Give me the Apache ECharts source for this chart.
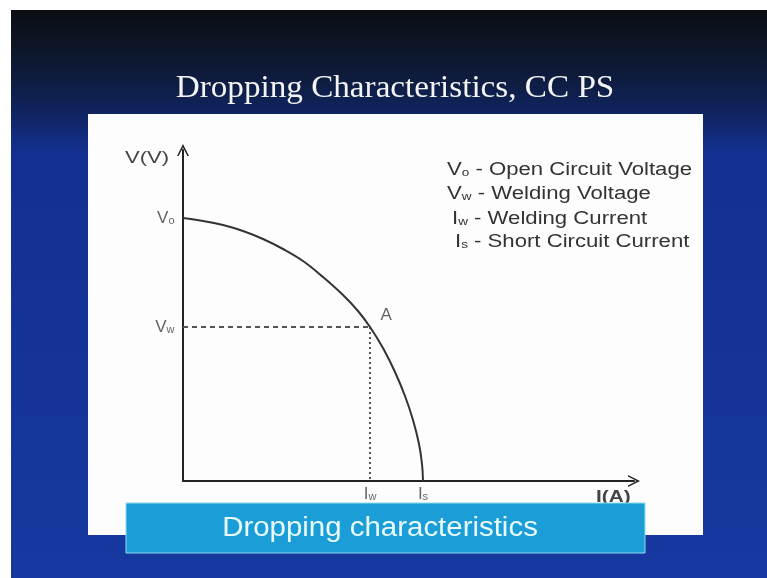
<!DOCTYPE html>
<html lang="en">
<head>
    <meta charset="UTF-8">
    <title>Dropping Characteristics, CC PS</title>
    <script src="https://cdn.jsdelivr.net/npm/echarts@6/dist/echarts.min.js"></script>
    <style>
        html, body { margin: 0; padding: 0; background: #fff; }
    </style>
</head>
<body>
<div id="main" style="width:767px;height:578px;"></div>
<script>
    // curve points (I, V) in arbitrary units
    var curveI = [0, 20, 40, 60, 80, 100, 120, 140, 160, 175, 187, 200, 212, 222, 230, 236, 239, 240];
    var curveV = [263, 260, 256, 250, 242, 232, 220, 204, 186, 170, 154, 133, 109, 85, 61, 37, 17, 0];
    var Vo = 263, Vw = 154, Iw = 187, Is = 240;
    var legendLines = [
        ['V', 'o', ' - Open Circuit Voltage'],
        ['V', 'w', ' - Welding Voltage'],
        ['I', 'w', ' - Welding Current'],
        ['I', 's', ' - Short Circuit Current']
    ];

    var curve = [];
    for (var i = 0; i < curveI.length; i++) {
        curve.push([curveI[i], curveV[i]]);
    }

    var sub = function (a, b) { return '{m|' + a + '}{s|' + b + '}'; };
    var labRich = {
        m: { fontFamily: 'Liberation Sans', fontSize: 17, color: '#3c3c3c' },
        s: { fontFamily: 'Liberation Sans', fontSize: 11, color: '#3c3c3c', padding: [6, 0, 0, 0] }
    };
    var chevron = 'path://M0,12 L6,0 L12,12 L10.4,12 L6,3.4 L1.6,12 Z';

    var legendX = [447, 447, 452, 455];
    var legendY = [170, 194, 219, 242];
    var legendEls = legendLines.map(function (l, k) {
        return {
            type: 'text', x: legendX[k], y: legendY[k], scaleX: 1.23, z: 10,
            style: {
                text: '{m|' + l[0] + '}{s|' + l[1] + '}{t|' + l[2] + '}',
                verticalAlign: 'middle',
                rich: {
                    m: { fontFamily: 'Liberation Sans', fontSize: 18, fill: '#333' },
                    s: { fontFamily: 'Liberation Sans', fontSize: 11, fill: '#333', padding: [6, 0, 0, 0] },
                    t: { fontFamily: 'Liberation Sans', fontSize: 18, fill: '#333' }
                }
            }
        };
    });

    var chart = echarts.init(document.getElementById('main'));
    chart.setOption({
        animation: false,
        graphic: [
            {
                type: 'rect', z: -10, shape: { x: 11, y: 10, width: 756, height: 568 },
                style: {
                    fill: new echarts.graphic.LinearGradient(0, 0, 0, 1, [
                        { offset: 0, color: '#0b0e13' },
                        { offset: 0.06, color: '#0d1526' },
                        { offset: 0.12, color: '#0e1c3e' },
                        { offset: 0.18, color: '#10245f' },
                        { offset: 0.25, color: '#133090' },
                        { offset: 1, color: '#1638a0' }
                    ])
                }
            },
            {
                type: 'rect', z: -9, shape: { x: 88, y: 114, width: 615, height: 421 },
                style: { fill: '#fdfdfd' }
            },
            {
                type: 'text', x: 395, y: 89, scaleX: 1.07, z: 10,
                style: {
                    text: 'Dropping Characteristics, CC PS', align: 'center', verticalAlign: 'middle',
                    fontFamily: 'Liberation Serif', fontSize: 31, fill: '#f4f4f4'
                }
            },
            {
                type: 'text', x: 125, y: 158, scaleX: 1.3, z: 10,
                style: { text: 'V(V)', verticalAlign: 'middle', fontFamily: 'Liberation Sans', fontSize: 17, fill: '#444' }
            },
            {
                type: 'text', x: 596, y: 498, scaleX: 1.3, z: 10,
                style: { text: 'I(A)', verticalAlign: 'middle', fontFamily: 'Liberation Sans', fontSize: 16, fontWeight: 'bold', fill: '#444' }
            },
            {
                type: 'rect', z: 20, shape: { x: 126, y: 503, width: 519, height: 50 },
                style: { fill: '#1b9dd8', stroke: '#8fdcf0', lineWidth: 1 }
            },
            {
                type: 'text', x: 380, y: 529, scaleX: 1.09, z: 21,
                style: {
                    text: 'Dropping characteristics', align: 'center', verticalAlign: 'middle',
                    fontFamily: 'Liberation Sans', fontSize: 27, fill: '#e8fbff'
                }
            }
        ].concat(legendEls),
        grid: { left: 183, top: 150, width: 451, height: 331 },
        xAxis: {
            type: 'value', min: 0, max: 451,
            axisLine: {
                show: true, symbol: ['none', chevron], symbolSize: [12, 13],
                lineStyle: { color: '#222', width: 2 }
            },
            axisTick: { show: false }, axisLabel: { show: false }, splitLine: { show: false }
        },
        yAxis: {
            type: 'value', min: 0, max: 331,
            axisLine: {
                show: true, symbol: ['none', chevron], symbolSize: [13, 12],
                lineStyle: { color: '#222', width: 2 }
            },
            axisTick: { show: false }, axisLabel: { show: false }, splitLine: { show: false }
        },
        series: [
            {
                type: 'line', data: [[0, Vw], [Iw, Vw]], symbol: 'none', silent: true,
                lineStyle: { color: '#555', width: 2, type: [5, 4] }
            },
            {
                type: 'line', data: [[Iw, Vw], [Iw, 0]], symbol: 'none', silent: true,
                lineStyle: { color: '#555', width: 2, type: [2, 3] }
            },
            {
                type: 'line', data: curve, smooth: 0.4, symbol: 'none', silent: true,
                lineStyle: { color: '#333', width: 2 }
            },
            {
                type: 'scatter', symbolSize: 1, itemStyle: { color: 'transparent' }, silent: true,
                data: [
                    { value: [0, Vo], label: { position: 'left', formatter: sub('V', 'o') } },
                    { value: [0, Vw], label: { position: 'left', formatter: sub('V', 'w') } },
                    { value: [Iw, 0], label: { position: 'bottom', distance: 4, formatter: sub('I', 'w') } },
                    { value: [Is, 0], label: { position: 'bottom', distance: 4, formatter: sub('I', 's') } },
                    { value: [Iw, Vw], label: { position: 'right', offset: [2, -12], formatter: '{m|A}' } }
                ],
                label: { show: true, distance: 8, rich: labRich }
            }
        ]
    });
</script>
</body>
</html>
